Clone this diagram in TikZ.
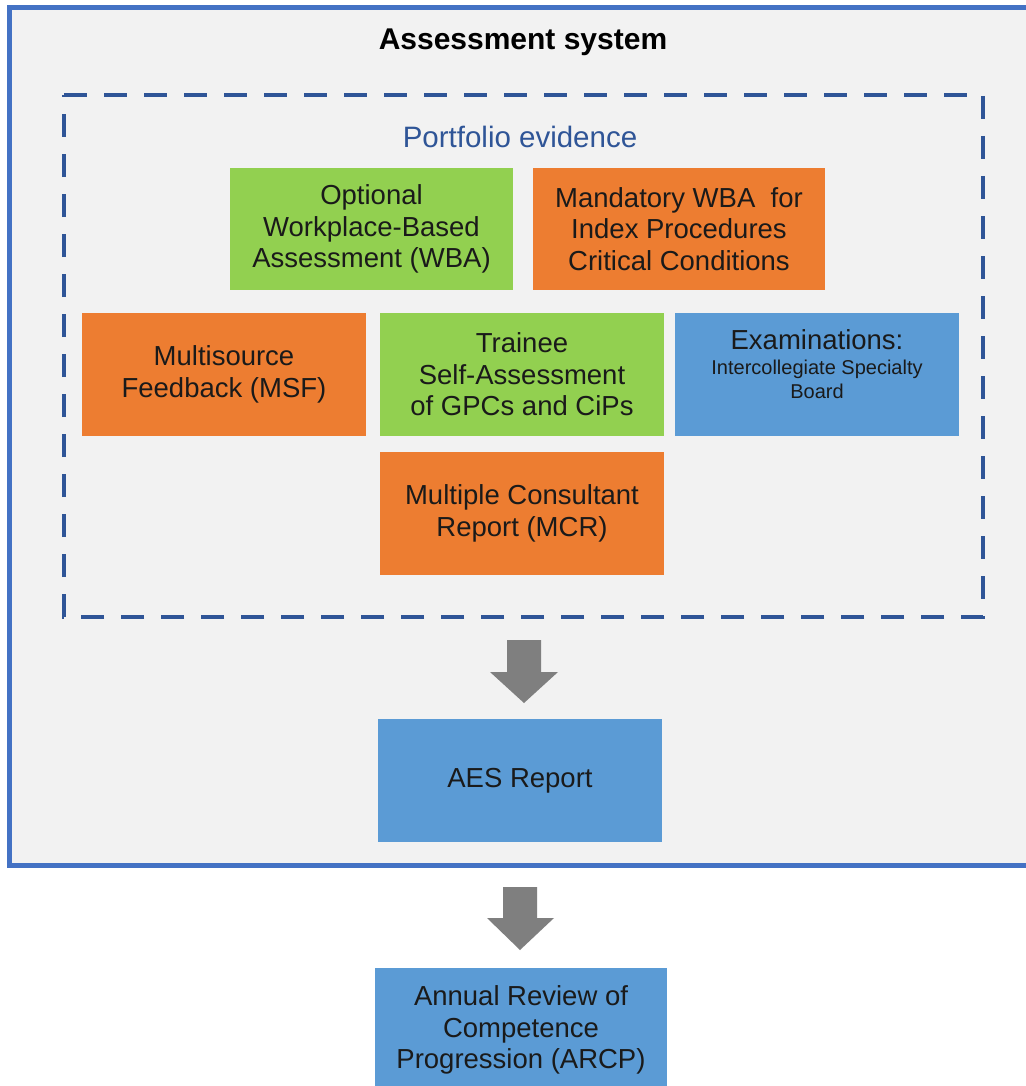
\documentclass[tikz,border=0pt]{standalone}
\usepackage{fontspec}
\setmainfont{Liberation Sans}
\definecolor{cgreen}{HTML}{92D050}
\definecolor{corange}{HTML}{ED7D31}
\definecolor{cblue}{HTML}{5B9BD5}
\definecolor{cpanel}{HTML}{F2F2F2}
\definecolor{cborder}{HTML}{4472C4}
\definecolor{cdash}{HTML}{2F5597}
\definecolor{carrow}{HTML}{7F7F7F}
\definecolor{ctext}{HTML}{1A1A1A}
\begin{document}
\begin{tikzpicture}[x=1pt,y=-1pt,
  box/.style={minimum width=284pt,minimum height=123pt,inner sep=0pt,align=center,
    text=ctext,font=\fontsize{27.5}{31.5}\selectfont},
  greenbox/.style={box,fill=cgreen},
  orangebox/.style={box,fill=corange},
  bluebox/.style={box,fill=cblue},
  blockarrow/.style={fill=carrow,draw=none}]
\useasboundingbox (0,0) rectangle (1025,1086);
\fill[white] (0,0) rectangle (1025,1086);
% outer panel
\draw[cborder,line width=5pt,fill=cpanel] (9,8) rectangle (1040,865);
\node[font=\fontsize{30}{34}\selectfont\bfseries] (title) at (523,42) {Assessment system};
% dashed portfolio frame
\draw[cdash,line width=4pt,dash pattern=on 23pt off 17pt] (64,95) -- (983,95) -- (983,617) -- (64,617) -- cycle;
\node[text=cdash,font=\fontsize{29.5}{33}\selectfont] (portfolio) at (520,137) {Portfolio evidence};
% boxes
\node[greenbox,minimum width=283pt,minimum height=122pt] (owba) at (371.5,229) {Optional\\Workplace-Based\\Assessment (WBA)};
\node[orangebox,minimum width=292pt,minimum height=122pt] (mwba) at (679,229) {Mandatory WBA\ \ for\\Index Procedures\\Critical Conditions};
\node[orangebox] (msf) at (224,374.5) {Multisource\\Feedback (MSF)};
\node[greenbox] (trainee) at (522,374.5) {Trainee\\Self-Assessment\\of GPCs and CiPs};
\node[bluebox] (exam) at (817,374.5) {Examinations:\\[-6pt]{\fontsize{20}{24}\selectfont Intercollegiate Specialty}\\[-8pt]{\fontsize{20}{24}\selectfont Board}\\[-10pt]};
\node[orangebox] (mcr) at (522,513.5) {Multiple Consultant\\Report (MCR)};
\node[bluebox] (aes) at (520,780.5) {AES Report};
\node[bluebox,minimum width=292pt,minimum height=124pt] (arcp) at (521,1030) {Annual Review of\\Competence\\Progression (ARCP)};
% block arrows
\fill[blockarrow] (507,640) -- (541,640) -- (541,672) -- (558,672) -- (524,703) -- (490,672) -- (507,672) -- cycle;
\fill[blockarrow] (503,887) -- (537,887) -- (537,918) -- (554,918) -- (520,950) -- (487,918) -- (503,918) -- cycle;
\end{tikzpicture}
\end{document}
